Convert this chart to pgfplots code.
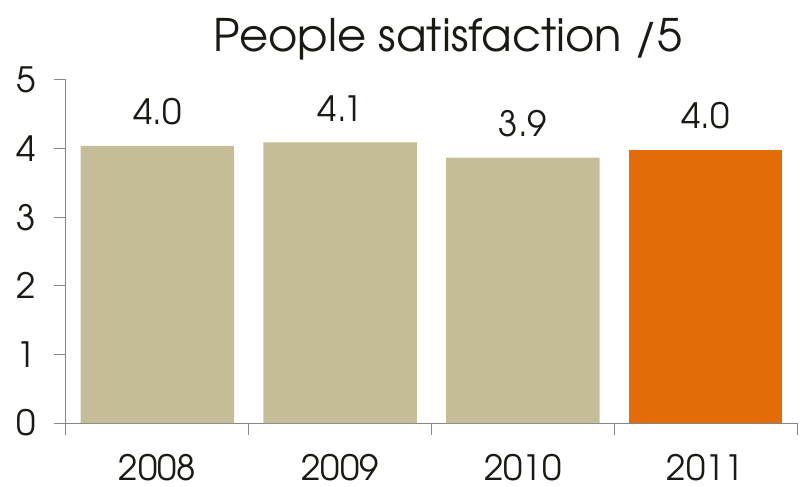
\documentclass[border=0pt]{standalone}
\usepackage{fontspec}
\setmainfont{TeX Gyre Adventor}
\usepackage{pgfplots}
\pgfplotsset{compat=1.18}
\definecolor{tanbar}{HTML}{C4BD97}
\definecolor{orangebar}{HTML}{E36C09}
\definecolor{axisgray}{HTML}{868686}
\definecolor{txt}{HTML}{1A1A14}
\begin{document}
\begin{tikzpicture}
\path[use as bounding box] (-66bp,-64bp) rectangle (739bp,423bp);
\begin{axis}[
  scale only axis, width=731bp, height=343bp,
  xmin=-0.5, xmax=3.5, ymin=0, ymax=5,
  axis x line=bottom, axis y line=left,
  axis line style={axisgray, line width=1bp, -},
  xtick={-0.5,0.5,1.5,2.5,3.5},
  x tick label as interval,
  xticklabels={2008,2009,2010,2011},
  ytick={0,1,2,3,4,5},
  tick align=outside,
  major tick length=12bp,
  tick style={axisgray, line width=1bp},
  /pgf/number format/assume math mode=true,
  xticklabel style={font=\fontsize{35}{40}\selectfont, text=txt, yshift=-16bp},
  yticklabel style={font=\fontsize{35}{40}\selectfont, text=txt, xshift=-15bp},
  clip=false,
]
\addplot[ybar, bar width=0.84, bar shift=0pt, fill=tanbar, draw=none,
  nodes near coords, point meta=explicit symbolic,
  every node near coord/.append style={anchor=base, yshift=21bp, font=\fontsize{35}{40}\selectfont, text=txt}]
  coordinates {(0,4.04)[4.0] (1,4.09)[4.1] (2,3.87)[3.9]};
\addplot[ybar, bar width=0.84, bar shift=0pt, fill=orangebar, draw=none,
  nodes near coords, point meta=explicit symbolic,
  every node near coord/.append style={anchor=base, yshift=21bp, font=\fontsize{35}{40}\selectfont, text=txt}]
  coordinates {(3,3.98)[4.0]};
\end{axis}
\node[anchor=base, font=\fontsize{45}{54}\selectfont, text=txt] at (382bp,371bp) {People satisfaction /5};
\end{tikzpicture}
\end{document}
